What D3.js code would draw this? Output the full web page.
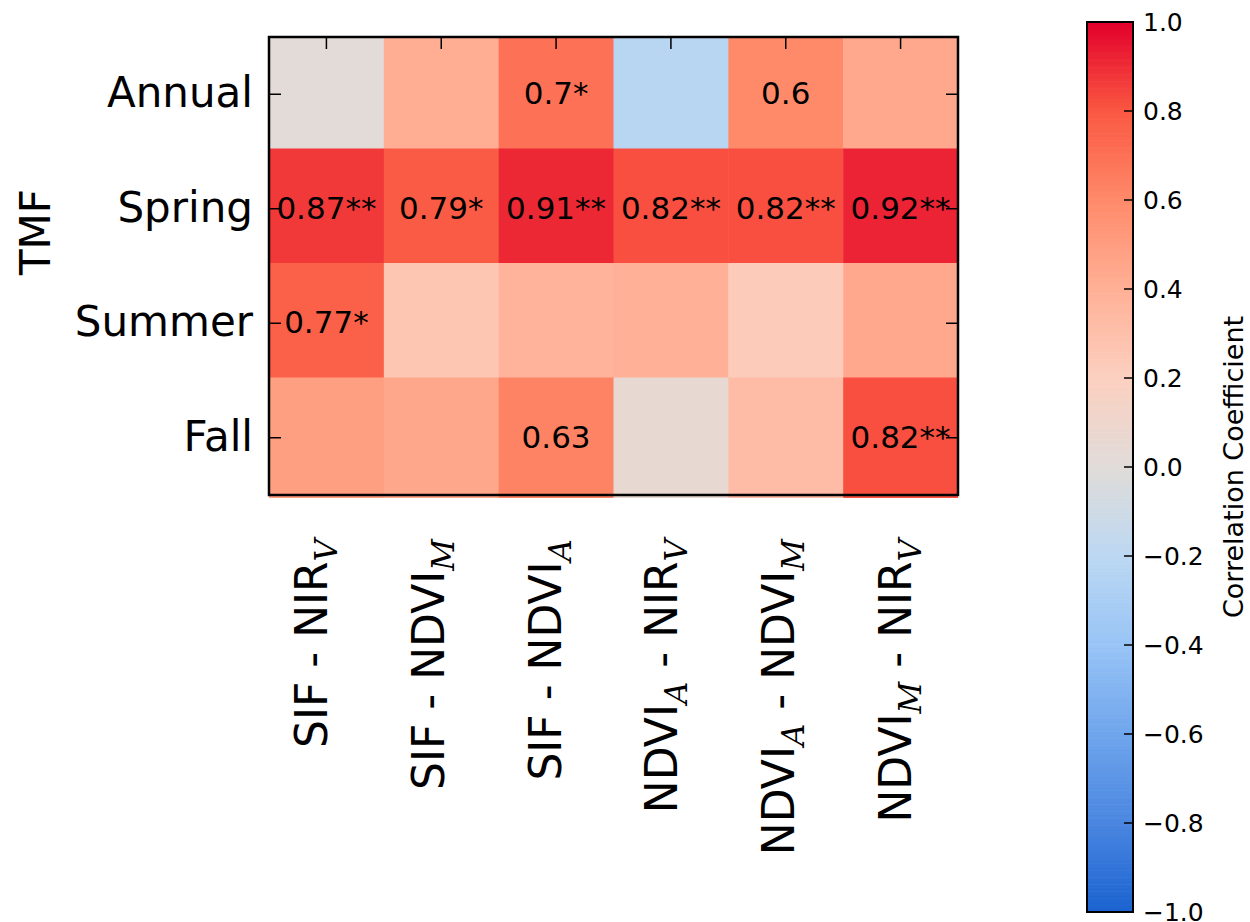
<!DOCTYPE html>
<html>
<head>
<meta charset="utf-8">
<script src="https://cdn.jsdelivr.net/npm/d3@7"></script>
<style>
  html, body { margin: 0; padding: 0; background: #fff; }
  svg { display: block; font-family: "DejaVu Sans", sans-serif; }
</style>
</head>
<body>
<svg id="chart" width="1250" height="922"></svg>
<script>
// Row and column categories
const rows = ["Annual", "Spring", "Summer", "Fall"];
const cols = ["SIF - NIR_V", "SIF - NDVI_M", "SIF - NDVI_A", "NDVI_A - NIR_V", "NDVI_A - NDVI_M", "NDVI_M - NIR_V"];

// Correlation coefficients per season
const annual = [0.02, 0.41, 0.70, -0.22, 0.60, 0.44];
const spring = [0.87, 0.79, 0.91, 0.82, 0.82, 0.92];
const summer = [0.77, 0.26, 0.38, 0.40, 0.23, 0.44];
const fall   = [0.49, 0.45, 0.63, 0.06, 0.33, 0.82];

// Annotation marks: null = no label, "" = value only, "*" / "**" = significance
const annualMark = [null, null, "*", null, "", null];
const springMark = ["**", "*", "**", "**", "**", "**"];
const summerMark = ["*", null, null, null, null, null];
const fallMark   = [null, null, "", null, null, "**"];

// Diverging colour map stops
const cmapDomain = [-1, -0.8, -0.6, -0.4, -0.2, 0, 0.2, 0.4, 0.6, 0.8, 1];
const cmapColors = ["#1a62d0", "#4a86e0", "#6fa5ec", "#98c4f6", "#bcd8f2", "#e0dcd9",
                    "#fcd0c0", "#ffb096", "#ff8a6a", "#fa5842", "#e2002b"];

// Colour bar ticks
const cbTicks = d3.ticks(-1, 1, 10);
const cbLabel = "Correlation Coefficient";
const yTitle = "TMF";

const seriesValues = [annual, spring, summer, fall];
const seriesMarks = [annualMark, springMark, summerMark, fallMark];
const cells = [];
rows.forEach((r, i) => cols.forEach((c, j) => {
  cells.push({ row: r, col: c, value: seriesValues[i][j], mark: seriesMarks[i][j] });
}));

const svg = d3.select("#chart");
const ax = { left: 269, right: 958, top: 37, bottom: 495 };

const x = d3.scaleBand().domain(cols).range([ax.left, ax.right]);
const y = d3.scaleBand().domain(rows).range([ax.top, ax.bottom]);
const xLabel = d3.scaleBand().domain(cols).range([ax.left - 11, ax.right]);
const color = d3.scaleLinear().domain(cmapDomain).range(cmapColors).clamp(true);

// Heat map cells (image raster sits slightly above the tick centres)
const shift = 3;
svg.append("defs").append("clipPath").attr("id", "imgclip")
  .append("rect")
  .attr("x", ax.left).attr("y", ax.top)
  .attr("width", ax.right - ax.left).attr("height", ax.bottom - ax.top + shift);

const lastRow = rows[rows.length - 1];
svg.append("g").attr("clip-path", "url(#imgclip)")
  .selectAll("rect").data(cells).join("rect")
  .attr("x", d => x(d.col))
  .attr("y", d => y(d.row) - shift)
  .attr("width", x.bandwidth() + 0.5)
  .attr("height", d => y.bandwidth() + 0.5 + (d.row === lastRow ? 2 * shift : 0))
  .attr("fill", d => color(d.value));

// Cell annotations
const fmt = v => String(+v.toFixed(2));
svg.append("g").selectAll("text").data(cells.filter(d => d.mark !== null)).join("text")
  .attr("x", d => x(d.col) + x.bandwidth() / 2)
  .attr("y", d => y(d.row) + y.bandwidth() / 2 + 10)
  .attr("text-anchor", "middle")
  .attr("font-size", 31)
  .attr("fill", "#000")
  .text(d => fmt(d.value) + d.mark);

// Ticks: top, left and right, pointing inward
const tickLen = 12;
const tg = svg.append("g").attr("stroke", "#000").attr("stroke-width", 1.5);
tg.selectAll("line.tx").data(cols).join("line").attr("class", "tx")
  .attr("x1", d => x(d) + x.bandwidth() / 2).attr("x2", d => x(d) + x.bandwidth() / 2)
  .attr("y1", ax.top).attr("y2", ax.top + tickLen);
tg.selectAll("line.tl").data(rows).join("line").attr("class", "tl")
  .attr("x1", ax.left).attr("x2", ax.left + tickLen)
  .attr("y1", d => y(d) + y.bandwidth() / 2).attr("y2", d => y(d) + y.bandwidth() / 2);
tg.selectAll("line.tr").data(rows).join("line").attr("class", "tr")
  .attr("x1", ax.right - tickLen).attr("x2", ax.right)
  .attr("y1", d => y(d) + y.bandwidth() / 2).attr("y2", d => y(d) + y.bandwidth() / 2);

// Frame
svg.append("rect")
  .attr("x", ax.left).attr("y", ax.top)
  .attr("width", ax.right - ax.left).attr("height", ax.bottom - ax.top)
  .attr("fill", "none").attr("stroke", "#000").attr("stroke-width", 2.5);

// Row labels
svg.append("g").selectAll("text").data(rows).join("text")
  .attr("x", ax.left - 16)
  .attr("y", d => y(d) + y.bandwidth() / 2 + 13)
  .attr("text-anchor", "end")
  .attr("font-size", 42)
  .text(d => d);

// Y title
svg.append("text")
  .attr("transform", `translate(50, ${(ax.top + ax.bottom) / 2 - 34}) rotate(-90)`)
  .attr("text-anchor", "middle")
  .attr("font-size", 42)
  .text(yTitle);

// Column labels with subscripts, rotated
const colG = svg.append("g").selectAll("text").data(cols).join("text")
  .attr("transform", d => `translate(${xLabel(d) + xLabel.bandwidth() / 2 + 11}, ${ax.bottom + 44}) rotate(-90)`)
  .attr("text-anchor", "end")
  .attr("font-size", 44);
colG.each(function (d) {
  const t = d3.select(this);
  const parts = d.split(/_(\w)/);
  let down = false;
  parts.forEach((p, k) => {
    if (k % 2 === 0) {
      if (!p) return;
      t.append("tspan").attr("dy", down ? -10 : 0).text(p);
      down = false;
    } else {
      t.append("tspan")
        .attr("dy", down ? 0 : 10)
        .attr("font-family", "DejaVu Serif")
        .attr("font-style", "italic")
        .attr("font-size", 31)
        .text(p);
      down = true;
    }
  });
});

// Colour bar
const cb = { left: 1087, right: 1133, top: 22, bottom: 912 };
const cy = d3.scaleLinear().domain([-1, 1]).range([cb.bottom, cb.top]);
const nSteps = 256;
const steps = d3.range(nSteps).map(i => -1 + (2 * (i + 0.5)) / nSteps);
svg.append("g").selectAll("rect").data(steps).join("rect")
  .attr("x", cb.left)
  .attr("y", d => cy(d + 1 / nSteps))
  .attr("width", cb.right - cb.left)
  .attr("height", (cb.bottom - cb.top) / nSteps + 0.6)
  .attr("fill", d => color(d));
svg.append("rect")
  .attr("x", cb.left).attr("y", cb.top)
  .attr("width", cb.right - cb.left).attr("height", cb.bottom - cb.top)
  .attr("fill", "none").attr("stroke", "#000").attr("stroke-width", 2);

const cbFmt = d3.format(".1f");
svg.append("g").attr("stroke", "#000").attr("stroke-width", 1.5)
  .selectAll("line").data(cbTicks).join("line")
  .attr("x1", cb.right - 9).attr("x2", cb.right)
  .attr("y1", d => cy(d)).attr("y2", d => cy(d));
svg.append("g").selectAll("text").data(cbTicks).join("text")
  .attr("x", cb.right + 10)
  .attr("y", d => cy(d) + 8.5)
  .attr("font-size", 25)
  .text(d => cbFmt(d));

svg.append("text")
  .attr("transform", `translate(1243, ${(cb.top + cb.bottom) / 2}) rotate(-90)`)
  .attr("text-anchor", "middle")
  .attr("font-size", 27)
  .text(cbLabel);
</script>
</body>
</html>
